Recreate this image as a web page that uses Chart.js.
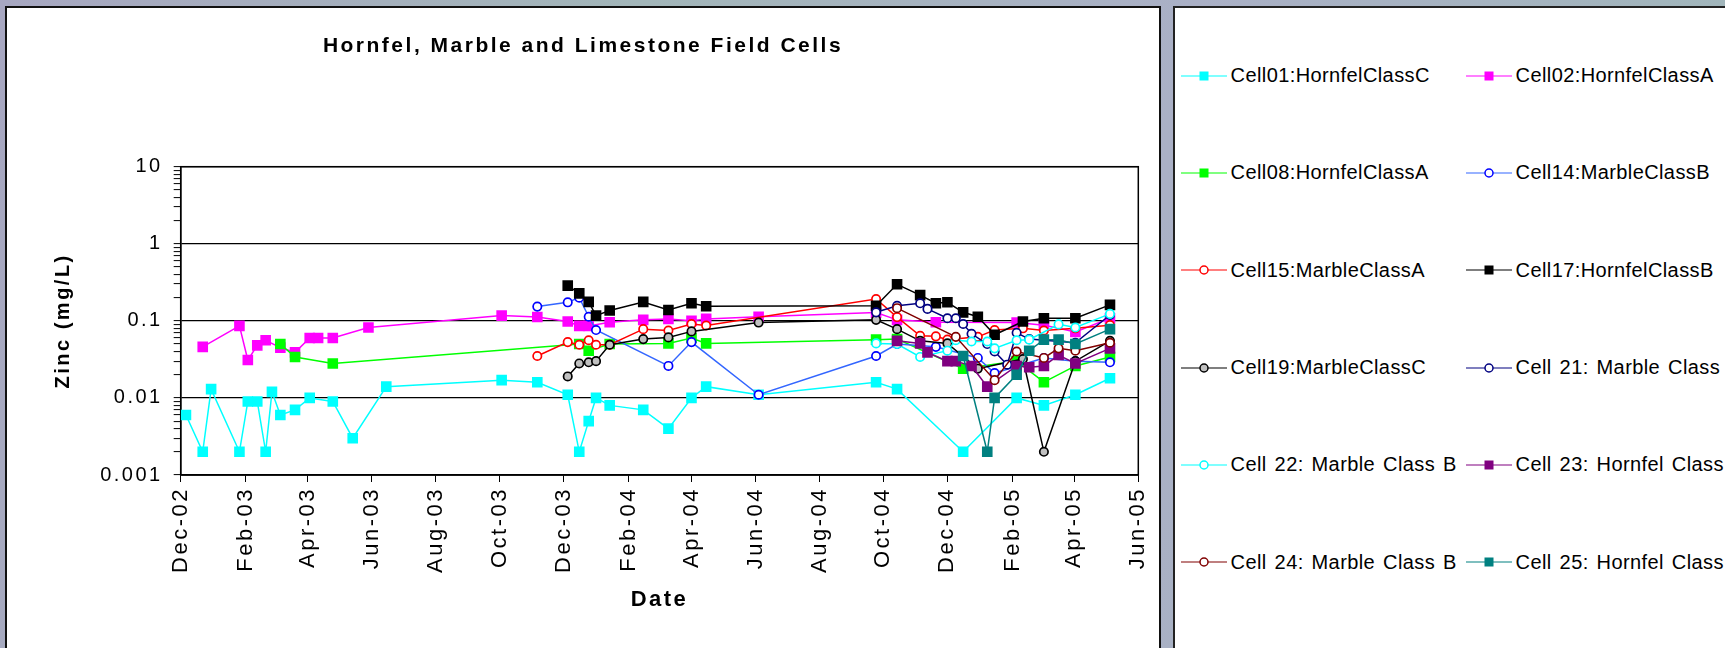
<!DOCTYPE html>
<html>
<head>
<meta charset="utf-8">
<title>Hornfel, Marble and Limestone Field Cells</title>
<script src="https://cdn.jsdelivr.net/npm/chart.js"></script>
<style>
    html, body { margin: 0; padding: 0; }
    body {
        width: 1725px;
        height: 648px;
        overflow: hidden;
        position: relative;
        background: linear-gradient(100deg, #a7a7c1 0%, #a2b6b9 35%, #aab0c6 65%, #9fb7b9 100%);
        font-family: Arial, "Liberation Sans", sans-serif;
    }
    #chartPanel {
        position: absolute; left: 5px; top: 6px; width: 1156px; height: 700px;
        box-sizing: border-box; background: #fff; border: 2px solid #111;
    }
    #chartBox { position: absolute; left: 8px; top: 8px; width: 1150px; height: 640px; }
    #legendPanel {
        position: absolute; left: 1173px; top: 6px; width: 600px; height: 700px;
        box-sizing: border-box; background: #fff; border: 2px solid #222;
    }
    .key {
        position: absolute; display: flex; align-items: center; height: 24px;
        white-space: nowrap; font-size: 20px; color: #000;
        letter-spacing: 0.4px; word-spacing: 2px;
    }
</style>
</head>
<body>
<div id="chartPanel"></div>
<div id="chartBox"><canvas id="zincChart" width="1150" height="640"></canvas></div>
<div id="legendPanel"></div>
<script>
const chartTitle = 'Hornfel, Marble and Limestone Field Cells';

// x axis: a tick every two months
const xTickDates = ['2002-12-01', '2003-02-01', '2003-04-01', '2003-06-01', '2003-08-01', '2003-10-01',
    '2003-12-01', '2004-02-01', '2004-04-01', '2004-06-01', '2004-08-01', '2004-10-01',
    '2004-12-01', '2005-02-01', '2005-04-01', '2005-06-01'];
const xTickLabels = ['Dec-02', 'Feb-03', 'Apr-03', 'Jun-03', 'Aug-03', 'Oct-03', 'Dec-03', 'Feb-04',
    'Apr-04', 'Jun-04', 'Aug-04', 'Oct-04', 'Dec-04', 'Feb-05', 'Apr-05', 'Jun-05'];

const yTickValues = [0.001, 0.01, 0.1, 1, 10];
const yTickLabels = ['0.001', '0.01', '0.1', '1', '10'];

const seriesNames = ['Cell01:HornfelClassC', 'Cell02:HornfelClassA', 'Cell08:HornfelClassA',
    'Cell14:MarbleClassB', 'Cell15:MarbleClassA', 'Cell17:HornfelClassB', 'Cell19:MarbleClassC',
    'Cell 21: Marble Class', 'Cell 22: Marble Class B', 'Cell 23: Hornfel Class',
    'Cell 24: Marble Class B', 'Cell 25: Hornfel Class'];

const cell01Dates = ['2002-12-06', '2002-12-22', '2002-12-30', '2003-01-26', '2003-02-03', '2003-02-12',
    '2003-02-20', '2003-02-26', '2003-03-06', '2003-03-20', '2003-04-03', '2003-04-25', '2003-05-14',
    '2003-06-15', '2003-10-03', '2003-11-06', '2003-12-05', '2003-12-16', '2003-12-25', '2004-01-01',
    '2004-01-14', '2004-02-15', '2004-03-10', '2004-04-01', '2004-04-15', '2004-06-04', '2004-09-24',
    '2004-10-14', '2004-12-16', '2005-02-05', '2005-03-03', '2005-04-02', '2005-05-05'];
const cell01Zinc = [0.006, 0.002, 0.013, 0.002, 0.009, 0.009, 0.002, 0.012, 0.006, 0.007, 0.010, 0.009,
    0.003, 0.014, 0.017, 0.016, 0.011, 0.002, 0.005, 0.010, 0.008, 0.007, 0.004, 0.010, 0.014, 0.011,
    0.016, 0.013, 0.002, 0.010, 0.008, 0.011, 0.018];

const cell02Dates = ['2002-12-22', '2003-01-26', '2003-02-03', '2003-02-12', '2003-02-20', '2003-03-06',
    '2003-03-20', '2003-04-03', '2003-04-11', '2003-04-25', '2003-05-29', '2003-10-03', '2003-11-06',
    '2003-12-05', '2003-12-16', '2003-12-25', '2004-01-14', '2004-02-15', '2004-03-10', '2004-04-01',
    '2004-04-15', '2004-06-04', '2004-09-24', '2004-10-14', '2004-11-20', '2005-02-05', '2005-03-03',
    '2005-04-02', '2005-05-05'];
const cell02Zinc = [0.046, 0.086, 0.031, 0.048, 0.056, 0.045, 0.039, 0.060, 0.060, 0.060, 0.082, 0.117,
    0.112, 0.098, 0.086, 0.086, 0.096, 0.103, 0.106, 0.100, 0.106, 0.113, 0.128, 0.103, 0.096, 0.095,
    0.088, 0.072, 0.108];

const cell08Dates = ['2003-03-06', '2003-03-20', '2003-04-25', '2003-12-16', '2003-12-25', '2004-01-14',
    '2004-03-10', '2004-04-01', '2004-04-15', '2004-09-24', '2004-10-14', '2004-12-16', '2005-02-05',
    '2005-03-03', '2005-04-02', '2005-05-05'];
const cell08Zinc = [0.050, 0.034, 0.028, 0.050, 0.041, 0.050, 0.051, 0.060, 0.051, 0.057, 0.058, 0.024,
    0.030, 0.016, 0.026, 0.034];

const cell14Dates = ['2003-11-06', '2003-12-05', '2003-12-16', '2003-12-25', '2004-01-01', '2004-03-10',
    '2004-04-01', '2004-06-04', '2004-09-24', '2004-10-14', '2004-11-20', '2004-12-30', '2005-01-15',
    '2005-03-03', '2005-04-02', '2005-05-05'];
const cell14Zinc = [0.153, 0.174, 0.200, 0.113, 0.076, 0.026, 0.053, 0.011, 0.035, 0.050, 0.046, 0.033,
    0.021, 0.033, 0.030, 0.029];

const cell15Dates = ['2003-11-06', '2003-12-05', '2003-12-16', '2003-12-25', '2004-01-01', '2004-01-14',
    '2004-02-15', '2004-03-10', '2004-04-01', '2004-04-15', '2004-09-24', '2004-10-14', '2004-11-05',
    '2004-11-20', '2004-12-01', '2004-12-30', '2005-01-15', '2005-02-11', '2005-03-03', '2005-04-02',
    '2005-05-05'];
const cell15Zinc = [0.035, 0.053, 0.049, 0.056, 0.049, 0.049, 0.078, 0.075, 0.091, 0.087, 0.192, 0.112,
    0.064, 0.063, 0.057, 0.062, 0.076, 0.080, 0.075, 0.080, 0.088];

const cell17Dates = ['2003-12-05', '2003-12-16', '2003-12-25', '2004-01-01', '2004-01-14', '2004-02-15',
    '2004-03-10', '2004-04-01', '2004-04-15', '2004-09-24', '2004-10-14', '2004-11-05', '2004-11-20',
    '2004-12-01', '2004-12-16', '2004-12-30', '2005-01-15', '2005-02-11', '2005-03-03', '2005-04-02',
    '2005-05-05'];
const cell17Zinc = [0.286, 0.227, 0.176, 0.117, 0.136, 0.176, 0.138, 0.169, 0.155, 0.157, 0.298, 0.216,
    0.169, 0.174, 0.129, 0.113, 0.066, 0.098, 0.108, 0.108, 0.161];

const cell19Dates = ['2003-12-05', '2003-12-16', '2003-12-25', '2004-01-01', '2004-01-14', '2004-02-15',
    '2004-03-10', '2004-04-01', '2004-06-04', '2004-09-24', '2004-10-14', '2004-11-05', '2004-12-01',
    '2004-12-30', '2005-02-11', '2005-03-03', '2005-04-02', '2005-05-05'];
const cell19Zinc = [0.019, 0.028, 0.029, 0.030, 0.049, 0.058, 0.061, 0.073, 0.095, 0.103, 0.078, 0.055,
    0.051, 0.024, 0.032, 0.002, 0.030, 0.055];

const cell21Dates = ['2004-09-24', '2004-10-14', '2004-11-05', '2004-11-12', '2004-12-01', '2004-12-09',
    '2004-12-16', '2004-12-24', '2005-01-08', '2005-01-15', '2005-01-27', '2005-02-05', '2005-02-17',
    '2005-04-02', '2005-05-05'];
const cell21Zinc = [0.129, 0.157, 0.169, 0.143, 0.108, 0.108, 0.091, 0.068, 0.050, 0.040, 0.027, 0.070,
    0.058, 0.052, 0.119];

const cell22Dates = ['2004-09-24', '2004-10-14', '2004-11-05', '2004-12-01', '2004-12-09', '2004-12-24',
    '2005-01-08', '2005-01-15', '2005-02-05', '2005-02-17', '2005-03-17', '2005-04-02', '2005-05-05'];
const cell22Zinc = [0.051, 0.050, 0.034, 0.041, 0.056, 0.054, 0.054, 0.044, 0.056, 0.057, 0.090, 0.082,
    0.123];

const cell23Dates = ['2004-10-14', '2004-11-05', '2004-11-12', '2004-12-01', '2004-12-09', '2004-12-24',
    '2005-01-08', '2005-02-05', '2005-02-17', '2005-03-03', '2005-03-17', '2005-04-02', '2005-05-05'];
const cell23Zinc = [0.055, 0.051, 0.039, 0.030, 0.030, 0.026, 0.014, 0.026, 0.025, 0.026, 0.036, 0.028,
    0.044];

const cell24Dates = ['2004-10-14', '2004-12-09', '2005-01-15', '2005-02-05', '2005-03-03', '2005-03-17',
    '2005-04-02', '2005-05-05'];
const cell24Zinc = [0.146, 0.062, 0.017, 0.040, 0.033, 0.044, 0.041, 0.052];

const cell25Dates = ['2004-12-16', '2005-01-08', '2005-01-15', '2005-02-05', '2005-02-17', '2005-03-03',
    '2005-03-17', '2005-04-02', '2005-05-05'];
const cell25Zinc = [0.035, 0.002, 0.010, 0.020, 0.041, 0.057, 0.057, 0.050, 0.078];

const seriesDates = [cell01Dates, cell02Dates, cell08Dates, cell14Dates, cell15Dates, cell17Dates,
    cell19Dates, cell21Dates, cell22Dates, cell23Dates, cell24Dates, cell25Dates];
const seriesZinc = [cell01Zinc, cell02Zinc, cell08Zinc, cell14Zinc, cell15Zinc, cell17Zinc,
    cell19Zinc, cell21Zinc, cell22Zinc, cell23Zinc, cell24Zinc, cell25Zinc];

// line colour, marker shape, marker fill, marker edge
const seriesStyles = [
    { line: '#00ffff', marker: 'rect', fill: '#00ffff', edge: '#00ffff' },
    { line: '#ff00ff', marker: 'rect', fill: '#ff00ff', edge: '#ff00ff' },
    { line: '#00ff00', marker: 'rect', fill: '#00ff00', edge: '#00ff00' },
    { line: '#3366ff', marker: 'circle', fill: '#ffffff', edge: '#0000ff' },
    { line: '#ff0000', marker: 'circle', fill: '#ffffff', edge: '#ff0000' },
    { line: '#000000', marker: 'rect', fill: '#000000', edge: '#000000' },
    { line: '#000000', marker: 'circle', fill: '#c0c0c0', edge: '#000000' },
    { line: '#000080', marker: 'circle', fill: '#ffffff', edge: '#000080' },
    { line: '#00ffff', marker: 'circle', fill: '#ffffff', edge: '#00ffff' },
    { line: '#800080', marker: 'rect', fill: '#800080', edge: '#800080' },
    { line: '#800000', marker: 'circle', fill: '#ffffff', edge: '#800000' },
    { line: '#008080', marker: 'rect', fill: '#008080', edge: '#008080' }
];

const fontFamily = 'Arial, "Liberation Sans", sans-serif';

function toDay(s) {
    return Date.UTC(+s.slice(0, 4), +s.slice(5, 7) - 1, +s.slice(8, 10)) / 864e5;
}

const datasets = seriesNames.map(function (name, i) {
    const st = seriesStyles[i];
    const square = st.marker === 'rect';
    return {
        label: name,
        data: seriesDates[i].map((d, k) => ({ x: toDay(d), y: seriesZinc[i][k] })),
        borderColor: st.line,
        backgroundColor: st.fill,
        borderWidth: 1.5,
        pointStyle: st.marker,
        pointRadius: square ? 7.5 : 4.2,
        pointBackgroundColor: st.fill,
        pointBorderColor: st.edge,
        pointBorderWidth: square ? 0 : 1.7,
        tension: 0,
        order: -i // later series on top, as in the original
    };
});

// Excel draws its text with a little extra spacing
const wideText = {
    id: 'wideText',
    beforeUpdate(chart) { chart.ctx.letterSpacing = '2.5px'; },
    beforeDraw(chart) { chart.ctx.letterSpacing = '2.5px'; }
};

const plotFrame = {
    id: 'plotFrame',
    beforeDatasetsDraw(chart) {
        const { ctx, chartArea: a } = chart;
        ctx.save();
        ctx.strokeStyle = '#000';
        ctx.lineWidth = 1.5;
        ctx.strokeRect(a.left, a.top, a.right - a.left, a.bottom - a.top);
        ctx.restore();
    }
};

new Chart(document.getElementById('zincChart').getContext('2d'), {
    type: 'line',
    data: { datasets: datasets },
    plugins: [wideText, plotFrame],
    options: {
        responsive: false,
        animation: false,
        layout: { padding: { left: 19.7, right: 19.7, top: 0, bottom: 0 } },
        plugins: {
            legend: { display: false },
            tooltip: { enabled: false },
            title: {
                display: true,
                text: chartTitle,
                color: '#000',
                font: { family: fontFamily, size: 21, weight: 'bold' },
                padding: { top: 25.4, bottom: 108.1 }
            }
        },
        scales: {
            x: {
                type: 'linear',
                min: toDay(xTickDates[0]),
                max: toDay(xTickDates[xTickDates.length - 1]),
                afterBuildTicks: function (scale) {
                    scale.ticks = xTickDates.map(d => ({ value: toDay(d) }));
                },
                afterFit: function (scale) {
                    scale.height = 173;
                    scale.paddingLeft = 0;
                    scale.paddingRight = 0;
                },
                grid: { drawOnChartArea: false, drawTicks: true, tickLength: 7, tickColor: '#000', tickWidth: 1 },
                border: { display: true, color: '#000', width: 1.5 },
                ticks: {
                    autoSkip: false,
                    minRotation: 90,
                    maxRotation: 90,
                    padding: 5,
                    color: '#000',
                    font: { family: fontFamily, size: 22 },
                    callback: (value, index) => xTickLabels[index]
                },
                title: {
                    display: true,
                    text: 'Date',
                    color: '#000',
                    font: { family: fontFamily, size: 22, weight: 'bold' },
                    padding: { top: 0, bottom: 35 }
                }
            },
            y: {
                type: 'logarithmic',
                min: yTickValues[0],
                max: yTickValues[yTickValues.length - 1],
                afterBuildTicks: function (scale) {
                    const ticks = [];
                    for (let e = -3; e <= 0; e++) {
                        for (let m = 1; m <= 9; m++) {
                            ticks.push({ value: Number((m * Math.pow(10, e)).toPrecision(3)), major: m === 1 });
                        }
                    }
                    ticks.push({ value: 10, major: true });
                    scale.ticks = ticks;
                },
                afterFit: function (scale) { scale.width = 153; },
                grid: {
                    color: c => (c.tick && c.tick.major ? '#000' : 'rgba(0,0,0,0)'),
                    lineWidth: 1.2,
                    drawTicks: true,
                    tickLength: 7,
                    tickColor: '#000',
                    tickWidth: 1
                },
                border: { display: true, color: '#000', width: 1.5 },
                ticks: {
                    autoSkip: false,
                    padding: 11,
                    color: '#000',
                    font: { family: fontFamily, size: 20 },
                    callback: function (value) {
                        const i = yTickValues.findIndex(v => Math.abs(v - value) < v * 1e-6);
                        return i >= 0 ? yTickLabels[i] : '';
                    }
                },
                title: {
                    display: true,
                    text: 'Zinc (mg/L)',
                    color: '#000',
                    font: { family: fontFamily, size: 20, weight: 'bold' },
                    padding: { top: 23.3, bottom: 0 }
                }
            }
        }
    }
});

// legend in its own panel, two columns
const legendPanel = document.getElementById('legendPanel');
seriesNames.forEach(function (name, i) {
    const st = seriesStyles[i];
    const key = document.createElement('div');
    key.className = 'key';
    key.style.left = (i % 2 ? 290.6 : 5.6) + 'px';
    key.style.top = (55.6 + 97.3 * Math.floor(i / 2)) + 'px';
    const mark = st.marker === 'rect'
        ? '<rect x="18.5" y="7.5" width="9" height="9" fill="' + st.fill + '"/>'
        : '<circle cx="23" cy="12" r="4" fill="' + st.fill + '" stroke="' + st.edge + '" stroke-width="1.5"/>';
    key.innerHTML = '<svg width="46" height="24"><line x1="0" y1="12" x2="46" y2="12" stroke="' + st.line +
        '" stroke-width="1.2"/>' + mark + '</svg><span style="margin-left:4px">' + name + '</span>';
    legendPanel.appendChild(key);
});
</script>
</body>
</html>
